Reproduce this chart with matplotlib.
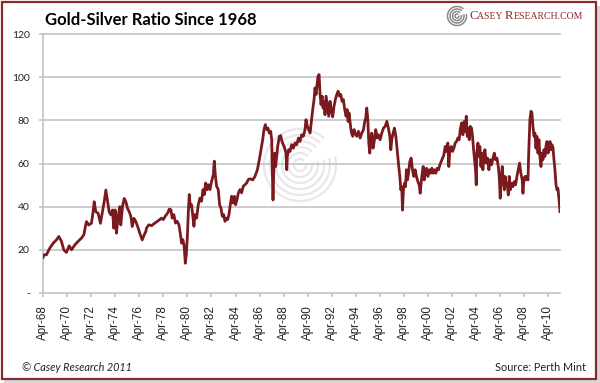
import matplotlib
matplotlib.use('Agg')
import matplotlib.pyplot as plt
from matplotlib.patches import Rectangle, Arc

# Gold/silver ratio (decimal year, ratio)
years = [
    1968.29, 1968.35, 1968.57, 1968.85, 1969.12, 1969.40, 1969.60, 1969.82, 1970.01, 1970.23,
    1970.46, 1970.65, 1970.93, 1971.20, 1971.48, 1971.68, 1971.81, 1971.90, 1972.09, 1972.31,
    1972.45, 1972.54, 1972.67, 1972.87, 1973.06, 1973.23, 1973.37, 1973.51, 1973.64, 1973.78,
    1973.92, 1974.06, 1974.17, 1974.28, 1974.39, 1974.53, 1974.67, 1974.75, 1974.89, 1975.03,
    1975.17, 1975.31, 1975.45, 1975.59, 1975.70, 1975.84, 1976.00, 1976.20, 1976.33, 1976.53,
    1976.70, 1976.83,
    1976.89, 1977.08, 1977.31, 1977.58, 1977.86, 1978.14, 1978.28, 1978.47, 1978.64, 1978.78,
    1978.91, 1979.02, 1979.16, 1979.30, 1979.44, 1979.58, 1979.69, 1979.80, 1979.91, 1980.02,
    1980.11, 1980.19, 1980.27, 1980.36, 1980.44, 1980.52, 1980.63, 1980.74, 1980.83, 1980.91,
    1981.05, 1981.19, 1981.33, 1981.46, 1981.58, 1981.69, 1981.80, 1981.91, 1982.02, 1982.16,
    1982.30, 1982.44, 1982.52, 1982.60, 1982.71, 1982.85, 1982.96, 1983.07, 1983.19, 1983.30,
    1983.41, 1983.52, 1983.63, 1983.74, 1983.85, 1983.96, 1984.07, 1984.18, 1984.29, 1984.41,
    1984.52, 1984.65, 1984.79, 1984.93, 1985.07, 1985.21, 1985.35, 1985.49,
    1985.71, 1985.90, 1986.10, 1986.26, 1986.40, 1986.54, 1986.65, 1986.76, 1986.87, 1986.98,
    1987.09, 1987.21, 1987.29, 1987.34, 1987.40, 1987.45, 1987.54, 1987.62, 1987.70, 1987.81,
    1987.93, 1988.04, 1988.15, 1988.26, 1988.37, 1988.48, 1988.54, 1988.59, 1988.70, 1988.81,
    1988.95, 1989.09, 1989.23, 1989.37, 1989.51, 1989.64, 1989.78, 1989.92, 1990.06, 1990.14,
    1990.26, 1990.37, 1990.48, 1990.59, 1990.70, 1990.81, 1990.89, 1990.98, 1991.06, 1991.14,
    1991.23, 1991.31, 1991.39, 1991.48, 1991.56, 1991.64, 1991.72, 1991.81, 1991.92, 1992.03,
    1992.14, 1992.25, 1992.36, 1992.47, 1992.58, 1992.70, 1992.81, 1992.92, 1993.03, 1993.14,
    1993.25, 1993.36, 1993.47, 1993.56, 1993.64, 1993.72, 1993.81, 1993.92, 1994.03, 1994.14,
    1994.22, 1994.36, 1994.50, 1994.64, 1994.78, 1994.92, 1995.00, 1995.11, 1995.19, 1995.28,
    1995.36, 1995.44, 1995.53, 1995.61, 1995.72, 1995.83, 1995.94, 1996.05, 1996.16, 1996.30,
    1996.44, 1996.58, 1996.72, 1996.86, 1996.99, 1997.11, 1997.19, 1997.27, 1997.38, 1997.49,
    1997.61, 1997.69, 1997.77, 1997.85, 1997.94, 1998.02, 1998.10, 1998.16, 1998.24, 1998.33,
    1998.41, 1998.49, 1998.58, 1998.66, 1998.77, 1998.88, 1998.99, 1999.10, 1999.21, 1999.32,
    1999.44, 1999.55, 1999.63, 1999.71, 1999.80, 1999.88, 1999.96, 2000.05, 2000.16, 2000.27,
    2000.38, 2000.49, 2000.60, 2000.71, 2000.82, 2000.93, 2001.04, 2001.15, 2001.27, 2001.38,
    2001.49, 2001.60, 2001.71, 2001.82, 2001.93, 2002.01, 2002.10, 2002.21, 2002.32, 2002.43,
    2002.54, 2002.65, 2002.76, 2002.87,
    2002.96, 2003.07, 2003.18, 2003.29, 2003.37, 2003.46, 2003.54, 2003.62, 2003.71, 2003.79,
    2003.90, 2003.98, 2004.07, 2004.15, 2004.23, 2004.29, 2004.34, 2004.43, 2004.51, 2004.59,
    2004.68, 2004.76, 2004.84, 2004.93, 2005.01, 2005.12, 2005.23, 2005.34, 2005.45, 2005.56,
    2005.68, 2005.79, 2005.90, 2006.01, 2006.12, 2006.20, 2006.28, 2006.37, 2006.45, 2006.53,
    2006.62, 2006.70, 2006.78, 2006.87, 2006.95, 2007.03, 2007.12, 2007.23, 2007.34, 2007.45,
    2007.56, 2007.67, 2007.78, 2007.89, 2008.00, 2008.11, 2008.17, 2008.25, 2008.34, 2008.42,
    2008.50, 2008.59, 2008.64, 2008.70, 2008.75, 2008.84, 2008.92, 2009.00, 2009.09, 2009.17,
    2009.25, 2009.33, 2009.42, 2009.50, 2009.58, 2009.67, 2009.75, 2009.83, 2009.92, 2010.00,
    2010.08, 2010.17, 2010.25, 2010.33, 2010.42, 2010.50, 2010.58, 2010.67, 2010.75, 2010.83,
    2010.92, 2011.00, 2011.08, 2011.17, 2011.25,
]
ratio = [
    16.5, 17.7, 17.7, 20.8, 23.0, 24.6, 26.2, 23.9, 20.0, 18.8,
    21.9, 20.0, 22.3, 23.9, 25.4, 27.0, 30.8, 33.1, 31.5, 32.3,
    37.7, 42.3, 37.7, 36.9, 32.3, 37.7, 42.3, 47.7, 43.0, 37.7,
    36.2, 38.5, 30.0, 38.5, 27.7, 35.4, 40.0, 31.5, 40.0, 43.8,
    42.3, 39.2, 37.7, 35.4, 30.8, 34.6, 33.1, 30.0, 27.7, 24.6,
    27.0, 28.5,
    30.1, 31.6, 31.2, 32.4, 33.5, 34.7, 34.0, 35.8, 37.0, 38.9,
    38.6, 34.7, 36.3, 32.4, 33.2, 31.6, 27.8, 23.1, 24.7, 21.6,
    13.8, 17.7, 24.7, 37.0, 45.6, 40.2, 40.9, 35.5, 30.9, 36.3,
    34.7, 40.9, 44.0, 42.5, 47.9, 45.6, 51.0, 47.9, 50.2, 47.9,
    51.8, 54.9, 61.1, 54.9, 49.5, 47.9, 40.9, 39.4, 35.5, 36.3,
    33.2, 34.7, 34.0, 36.3, 40.9, 44.8, 41.7, 44.8, 40.9, 43.3,
    46.4, 47.9, 46.4, 49.5, 50.2, 51.0, 52.6, 52.9,
    52.4, 54.0, 57.1, 61.7, 66.4, 71.0, 75.7, 78.0, 75.7, 76.4,
    74.1, 74.9, 71.0, 57.0, 43.1, 54.0, 64.8, 58.6, 63.3, 68.7,
    72.6, 72.9, 70.2, 68.7, 67.1, 64.8, 57.1, 63.3, 66.4, 65.6,
    68.7, 67.1, 69.5, 68.7, 71.8, 70.2, 73.3, 72.6, 75.7, 80.3,
    77.2, 75.7, 74.1, 79.5, 85.0, 89.6, 95.0, 92.0, 96.6, 100.5,
    101.2, 92.0, 87.3, 91.2, 85.7, 88.8, 82.6, 91.2, 86.5, 81.9,
    88.8, 84.2, 81.6, 86.5, 89.6, 92.0, 93.5, 91.2, 92.0, 88.8,
    89.6, 85.0, 81.9, 85.0, 79.5, 83.4, 78.8, 74.1, 72.6, 75.7,
    74.1, 72.6, 74.9, 71.8, 74.1, 75.7, 78.8, 81.1, 85.7, 80.3,
    69.5, 64.8, 71.0, 74.1, 67.1, 71.0, 75.7, 71.8, 73.3, 71.0,
    74.1, 76.4, 77.2, 79.5, 76.4, 72.6, 66.4, 71.0, 74.1, 76.4,
    72.6, 67.9, 63.3, 58.6, 54.0, 47.8, 49.3, 38.4, 47.8, 50.9,
    49.3, 57.1, 52.4, 55.5, 60.9, 62.5, 57.1, 54.0, 57.1, 54.0,
    51.6, 50.1, 46.2, 50.9, 55.5, 58.6, 52.4, 56.3, 57.8, 54.0,
    57.1, 55.5, 57.8, 55.5, 57.1, 55.5, 57.8, 57.1, 59.4, 60.9,
    62.5, 64.0, 67.9, 65.6, 69.5, 58.6, 66.4, 67.9, 65.6, 67.1,
    69.5, 70.2, 71.8, 71.0,
    75.7, 78.8, 73.3, 79.5, 74.9, 81.9, 72.6, 76.4, 71.0, 77.2,
    76.4, 72.6, 66.4, 61.7, 57.1, 50.1, 64.8, 69.5, 63.3, 67.9,
    58.6, 64.8, 57.1, 63.3, 66.4, 60.2, 62.5, 57.1, 61.7, 59.4,
    62.5, 64.8, 61.7, 62.5, 58.6, 54.0, 43.9, 54.0, 58.6, 52.4,
    47.8, 54.0, 49.3, 50.9, 45.4, 54.0, 47.8, 50.9, 49.3, 51.6,
    50.1, 54.0, 57.1, 60.2, 55.5, 52.4, 46.2, 52.4, 54.0, 52.4,
    54.0, 52.4, 63.3, 72.6, 80.3, 84.2, 83.4, 77.2, 72.6, 74.1,
    67.1, 72.6, 64.8, 71.0, 63.3, 58.6, 64.8, 61.7, 66.4, 63.3,
    67.9, 70.2, 64.8, 66.4, 70.2, 66.4, 68.7, 67.1, 61.7, 57.1,
    50.1, 47.8, 48.5, 43.1, 37.7,
]

tick_years = list(range(1968, 2011, 2))
tick_labels = ['Apr-%02d' % (y % 100) for y in tick_years]
y_ticks = [0, 20, 40, 60, 80, 100, 120]
y_labels = ['-', '20', '40', '60', '80', '100', '120']

W, H = 600, 383
RED = '#7a1a1e'
GRID = '#c4c4c4'

fig = plt.figure(figsize=(W / 100, H / 100), dpi=100)
fig.patch.set_facecolor('white')

# frame with a small drop shadow
fig.patches.append(Rectangle((4 / W, 0), (W - 4) / W, (H - 6) / H, transform=fig.transFigure,
                             facecolor='#d8d8d8', edgecolor='none', zorder=-3))
fig.patches.append(Rectangle((1.5 / W, 1 - 379 / H), 594 / W, 377.5 / H, transform=fig.transFigure,
                             facecolor='white', edgecolor='#8b2a2a', linewidth=1.6, zorder=-2))

def swirl(cx, cy, radii, color, lw, zorder):
    # concentric arcs drawn in pixel units of the figure
    for r in radii:
        a = Arc((cx / W, 1 - cy / H), 2 * r / W, 2 * r / H, theta1=60, theta2=380,
                transform=fig.transFigure, color=color, lw=lw, zorder=zorder)
        fig.patches.append(a)

# faint watermark behind the line
swirl(300, 165, [6, 12, 18, 24, 30, 36], '#e8e8e8', 1.6, -1)

ax = fig.add_axes([43 / W, 1 - 293 / H, (560 - 43) / W, (293 - 34) / H])
ax.set_facecolor('none')

for v in y_ticks[1:]:
    ax.axhline(v, color=GRID, lw=1.2, zorder=1, clip_on=False)

ax.plot(years, ratio, color=RED, lw=2.0, zorder=3)

ax.set_xlim(1968.29, 2011.25)
ax.set_ylim(0, 120)
ax.set_yticks(y_ticks)
ax.set_yticklabels(y_labels, family='Lato', fontsize=7.5)
ax.set_xticks([y + 0.285 for y in tick_years])
ax.set_xticklabels(tick_labels, rotation=90, family='Liberation Sans', fontsize=8.4)

for side in ['top', 'right']:
    ax.spines[side].set_visible(False)
for side in ['left', 'bottom']:
    ax.spines[side].set_color(GRID)
    ax.spines[side].set_linewidth(1.2)
ax.tick_params(axis='y', length=3, width=1.2, color=GRID, pad=6.5, labelcolor='#222222')
ax.tick_params(axis='x', length=3, width=1.2, color=GRID, pad=5.5, labelcolor='#222222')

fig.text(45 / W, 1 - 25 / H, 'Gold-Silver Ratio Since 1968', family='Lato', fontweight='bold',
         fontsize=12.0, va='baseline', color='black')
fig.text(22 / W, 1 - 371 / H, '\u00a9 Casey Research 2011', family='Lato', style='italic',
         fontsize=7.8, va='baseline', color='#222222')
fig.text(586 / W, 1 - 371 / H, 'Source: Perth Mint', family='Lato', fontsize=7.8,
         va='baseline', ha='right', color='#222222')

# logo: swirl + small caps wordmark
swirl(457, 16, [2, 4.5, 7, 9.5], '#8a8a8a', 1.1, 3)
pieces = [('C', 9.2), ('ASEY ', 7.0), ('R', 9.2), ('ESEARCH.COM', 7.0)]
logo = [fig.text(0, 0, txt, family='Liberation Serif', fontsize=size, color='#8b2a2a',
                 va='baseline') for txt, size in pieces]
# place the wordmark pieces one after another
fig.canvas.draw()
r = fig.canvas.get_renderer()
x = 469
for t in logo:
    t.set_position((x / W, 1 - 19 / H))
    x += t.get_window_extent(r).width

fig.savefig('out.png', dpi=100)
